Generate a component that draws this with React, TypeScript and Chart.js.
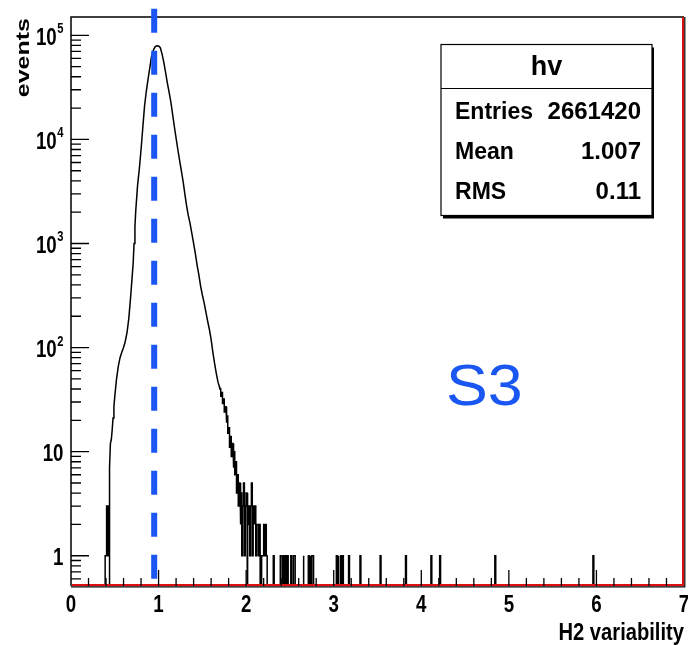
import React, { useEffect, useRef } from 'react';
import { Chart, registerables } from 'chart.js';

Chart.register(...registerables);

// ---------- data ----------
const xMin = 0;
const xMax = 7;
const yMin = 0.512;
const yMax = 1.5e5;
const binWidth = 0.01;

// core of the histogram (bin centre, counts)
const coreX = [
  0.44, 0.45, 0.46, 0.47, 0.48, 0.49, 0.5, 0.52, 0.54, 0.56, 0.58, 0.6, 0.62, 0.64, 0.66, 0.68,
  0.7, 0.71, 0.72, 0.73, 0.74, 0.76, 0.78, 0.8, 0.82, 0.84, 0.86, 0.88, 0.9, 0.92, 0.94, 0.96,
  0.98, 1.0, 1.02, 1.04, 1.06, 1.08, 1.1, 1.12, 1.14, 1.16, 1.18, 1.2, 1.22, 1.24, 1.26, 1.28,
  1.3, 1.32, 1.34, 1.36, 1.38, 1.4, 1.42, 1.44, 1.46, 1.48, 1.5, 1.52, 1.54, 1.56, 1.58, 1.6,
  1.62, 1.64, 1.66, 1.68, 1.695,
];
const coreCounts = [
  7, 12, 13, 16, 21, 27, 34, 50, 66, 80, 90, 100, 115, 140, 190, 300,
  500, 650, 1000, 1450, 2100, 3600, 5200, 8000, 13000, 21000, 29000, 38000, 49000, 63000, 72000, 77500,
  79500, 79000, 76000, 66000, 55000, 44000, 35000, 28500, 23000, 17500, 13300, 10300, 8000, 6300, 5000, 3950,
  3000, 2300, 1850, 1550, 1250, 1000, 800, 620, 500, 390, 320, 270, 220, 180, 150, 120,
  90, 70, 56, 46, 42,
];

// low-count bins on the left (lower edge, counts)
const leftBinEdges = [0.39, 0.4, 0.41, 0.42, 0.43];
const leftBinCounts = [1, 1, 3, 1, 3];

// right tail, bin by bin (lower edge, counts)
const tailBinEdges = [
  1.7, 1.71, 1.72, 1.73, 1.74, 1.75, 1.76, 1.77, 1.78, 1.79, 1.8, 1.81, 1.82, 1.83, 1.84, 1.85,
  1.86, 1.87, 1.88, 1.89, 1.9, 1.91, 1.92, 1.93, 1.94, 1.95, 1.96, 1.97, 1.98, 1.99, 2.0, 2.01,
  2.02, 2.03, 2.04, 2.05, 2.06, 2.07, 2.08, 2.09, 2.1, 2.11, 2.12, 2.13, 2.14, 2.15, 2.16, 2.17,
  2.18, 2.19, 2.2, 2.21, 2.22, 2.23,
  2.31, 2.39, 2.4, 2.41, 2.43, 2.45, 2.47, 2.51, 2.54, 2.55, 2.65, 2.71, 2.73, 2.75, 2.76,
  3.03, 3.05, 3.08, 3.1, 3.17, 3.3, 3.53, 3.82, 4.11, 4.21, 4.84, 5.96,
];
const tailBinCounts = [
  40, 34, 37, 29, 32, 24, 27, 19, 22, 15, 17, 11, 14, 9, 12, 7,
  10, 6, 8, 4, 6, 3, 5, 2, 4, 1, 3, 5, 1, 3, 4, 0,
  2, 3, 1, 3, 5, 1, 3, 2, 3, 1, 2, 2, 1, 2, 0, 1,
  1, 1, 2, 1, 2, 1,
  1, 1, 1, 1, 1, 1, 1, 1, 1, 1, 1, 1, 1, 1, 1,
  1, 1, 1, 1, 1, 1, 1, 1, 1, 1, 1, 1,
];

const xTickLabels = ['0', '1', '2', '3', '4', '5', '6', '7'];
const yDecades = [1, 10, 100, 1000, 10000, 100000];
const yTickBases = ['1', '10', '10', '10', '10', '10'];
const yTickExponents = ['', '', '2', '3', '4', '5'];
const xTitle = 'H2 variability';
const yTitle = 'events';
const statsTitle = 'hv';
const statsNames = ['Entries', 'Mean', 'RMS'];
const statsValues = ['2661420', '1.007', '0.11'];
const tagText = 'S3';
const refLineX = 0.95;
const refLineTop = 1.8e5;
const refLineBottom = 0.6;

// ---------- helpers ----------
const FLOOR = 0.05;
const FONT = "'Liberation Sans', Arial, Helvetica, sans-serif";
const BLUE = '#1a57f2';
const RED = '#dd1010';

function stepPoints(edges: number[], counts: number[], joinStart = false) {
  const pts: { x: number; y: number }[] = [];
  for (let i = 0; i < edges.length; i++) {
    const e = edges[i];
    const c = counts[i] > 0 ? counts[i] : FLOOR;
    const prevEnd = i > 0 ? edges[i - 1] + binWidth : null;
    if ((prevEnd === null && !joinStart) || (prevEnd !== null && Math.abs(prevEnd - e) > 1e-6))
      pts.push({ x: e, y: FLOOR });
    pts.push({ x: e, y: c });
    pts.push({ x: e + binWidth, y: c });
    const next = edges[i + 1];
    if (next === undefined || Math.abs(next - (e + binWidth)) > 1e-6) pts.push({ x: e + binWidth, y: FLOOR });
  }
  return pts;
}

function txt(
  ctx: CanvasRenderingContext2D,
  s: string,
  x: number,
  y: number,
  font: string,
  sx: number,
  align: CanvasTextAlign,
  color = '#000',
) {
  ctx.save();
  ctx.translate(x, y);
  ctx.scale(sx, 1);
  ctx.font = font;
  ctx.textAlign = align;
  ctx.textBaseline = 'alphabetic';
  ctx.fillStyle = color;
  ctx.fillText(s, 0, 0);
  ctx.restore();
}

const rootPlugin = {
  id: 'rootStyle',
  beforeDraw(chart: any) {
    const ctx = chart.ctx;
    ctx.save();
    ctx.fillStyle = '#fff';
    ctx.fillRect(0, 0, chart.width, chart.height);
    ctx.restore();
  },
  beforeDatasetsDraw(chart: any) {
    const ctx = chart.ctx;
    const a = chart.chartArea;
    ctx.save();
    ctx.strokeStyle = '#000';
    ctx.lineWidth = 1.5;
    ctx.beginPath();
    ctx.moveTo(a.left, a.bottom);
    ctx.lineTo(a.left, a.top);
    ctx.lineTo(a.right, a.top);
    ctx.stroke();
    ctx.restore();
  },
  afterDatasetsDraw(chart: any) {
    const ctx = chart.ctx;
    const a = chart.chartArea;
    const xs = chart.scales.x;
    const ys = chart.scales.y;
    ctx.save();
    // bottom & right frame
    ctx.strokeStyle = '#000';
    ctx.lineWidth = 1.2;
    ctx.beginPath();
    ctx.moveTo(a.left, a.bottom + 0.8);
    ctx.lineTo(a.right + 0.8, a.bottom + 0.8);
    ctx.lineTo(a.right + 0.8, a.top);
    ctx.stroke();
    ctx.strokeStyle = RED;
    ctx.lineWidth = 2;
    ctx.beginPath();
    ctx.moveTo(a.left + 1, a.bottom - 1);
    ctx.lineTo(a.right - 1, a.bottom - 1);
    ctx.lineTo(a.right - 1, a.top);
    ctx.stroke();

    // x ticks (inward)
    ctx.strokeStyle = '#000';
    ctx.lineWidth = 1.3;
    ctx.beginPath();
    for (let k = 1; k < 35; k++) {
      const v = k * 0.2;
      const px = xs.getPixelForValue(v);
      const len = k % 5 === 0 ? 16 : 8;
      ctx.moveTo(px, a.bottom);
      ctx.lineTo(px, a.bottom - len);
    }
    // y ticks
    for (let d = 0.1; d <= 1e5; d *= 10) {
      for (let m = 1; m <= 9; m++) {
        const v = m * d;
        if (v < yMin || v > yMax) continue;
        const py = ys.getPixelForValue(v);
        const len = m === 1 ? 18 : 10;
        ctx.moveTo(a.left, py);
        ctx.lineTo(a.left + len, py);
      }
    }
    ctx.stroke();
    ctx.restore();
  },
  afterDraw(chart: any) {
    const ctx = chart.ctx;
    const a = chart.chartArea;
    const xs = chart.scales.x;
    const ys = chart.scales.y;
    const fAxis = `bold 24px ${FONT}`;
    // x tick labels
    xTickLabels.forEach((l, i) => {
      txt(ctx, l, xs.getPixelForValue(i), 612, fAxis, 0.78, 'center');
    });
    // y tick labels
    yDecades.forEach((d, i) => {
      const py = ys.getPixelForValue(d);
      const exp = yTickExponents[i];
      let right = 63.5;
      if (exp) {
        const fExp = `bold 14px ${FONT}`;
        ctx.save();
        ctx.font = fExp;
        const w = ctx.measureText(exp).width * 0.8;
        ctx.restore();
        txt(ctx, exp, right, py - 2, fExp, 0.8, 'right');
        right = right - w - 0.5;
      }
      txt(ctx, yTickBases[i], right, py + 9.5, fAxis, 0.78, 'right');
    });
    // axis titles
    txt(ctx, xTitle, a.right, 640, fAxis, 0.84, 'right');
    ctx.save();
    ctx.translate(28.5, a.top + 1);
    ctx.rotate(-Math.PI / 2);
    ctx.scale(1, 0.72);
    ctx.font = `bold 25px ${FONT}`;
    ctx.textAlign = 'right';
    ctx.textBaseline = 'alphabetic';
    ctx.fillStyle = '#000';
    ctx.fillText(yTitle, 0, 0);
    ctx.restore();

    // stats box
    const bx = 441, by = 44.5, bw = 211, bh = 171;
    ctx.save();
    ctx.fillStyle = '#000';
    ctx.fillRect(bx + 2, by + 3, bw, bh);
    ctx.fillStyle = '#fff';
    ctx.fillRect(bx, by, bw, bh);
    ctx.strokeStyle = '#000';
    ctx.lineWidth = 1.2;
    ctx.strokeRect(bx, by, bw, bh);
    ctx.beginPath();
    ctx.moveTo(bx, 88.5);
    ctx.lineTo(bx + bw, 88.5);
    ctx.stroke();
    ctx.restore();
    txt(ctx, statsTitle, bx + bw / 2, 75, `bold 27px ${FONT}`, 1, 'center');
    const fStat = `bold 24px ${FONT}`;
    statsNames.forEach((n, i) => {
      const base = 118.5 + i * 40;
      txt(ctx, n, 455, base, fStat, 0.96, 'left');
      txt(ctx, statsValues[i], 641, base, fStat, 1, 'right');
    });

    // tag
    txt(ctx, tagText, 446, 405, `57px ${FONT}`, 1.1, 'left', BLUE);
  },
};

export default function App() {
  const ref = useRef<HTMLCanvasElement | null>(null);
  useEffect(() => {
    if (!ref.current) return;
    const histPoints = [
      ...stepPoints(leftBinEdges, leftBinCounts),
      ...coreX.map((x, i) => ({ x, y: coreCounts[i] })),
      ...stepPoints(tailBinEdges, tailBinCounts, true),
    ];
    const chart = new Chart(ref.current, {
      type: 'line',
      data: {
        datasets: [
          {
            label: 'ref',
            data: [
              { x: refLineX, y: refLineTop },
              { x: refLineX, y: refLineBottom },
            ],
            borderColor: BLUE,
            borderWidth: 6,
            borderDash: [24, 18],
            borderCapStyle: 'butt',
            pointRadius: 0,
            clip: false as any,
            fill: false,
          },
          {
            label: 'hv',
            data: histPoints,
            borderColor: '#000',
            borderWidth: 1.5,
            pointRadius: 0,
            fill: false,
            tension: 0,
          },
        ],
      },
      options: {
        animation: false,
        responsive: false,
        devicePixelRatio: 1,
        parsing: false as any,
        normalized: true,
        layout: { padding: { left: 71, right: 4, top: 17, bottom: 59 } },
        plugins: { legend: { display: false }, tooltip: { enabled: false } },
        scales: {
          x: { type: 'linear', min: xMin, max: xMax, display: false },
          y: { type: 'logarithmic', min: yMin, max: yMax, display: false },
        },
      },
      plugins: [rootPlugin],
    });
    return () => chart.destroy();
  }, []);
  return (
    <div style={{ position: 'absolute', left: 0, top: 0, width: 688, height: 645 }}>
      <canvas ref={ref} width={688} height={645} style={{ display: 'block' }} />
    </div>
  );
}
